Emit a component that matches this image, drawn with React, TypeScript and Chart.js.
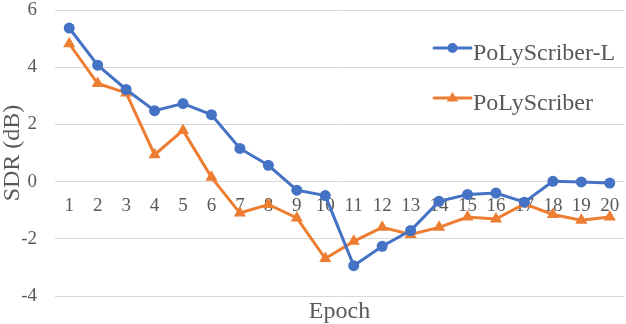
import { useEffect, useRef } from 'react';
import { Chart, registerables } from 'chart.js';

Chart.register(...registerables);

const epochs = ['1', '2', '3', '4', '5', '6', '7', '8', '9', '10', '11', '12', '13', '14', '15', '16', '17', '18', '19', '20'];
const polyScriberL = [5.37, 4.07, 3.22, 2.48, 2.73, 2.34, 1.16, 0.57, -0.3, -0.49, -2.94, -2.26, -1.71, -0.69, -0.45, -0.4, -0.72, 0.01, -0.01, -0.05];
const polyScriber = [4.82, 3.43, 3.1, 0.94, 1.79, 0.15, -1.1, -0.8, -1.27, -2.69, -2.09, -1.6, -1.85, -1.6, -1.24, -1.31, -0.78, -1.15, -1.35, -1.24];
const seriesNames = ['PoLyScriber-L', 'PoLyScriber'];
const xTitle = 'Epoch';
const yTitle = 'SDR (dB)';
const yMin = -4;
const yMax = 6;
const yStep = 2;

const BLUE = '#4472C4';
const ORANGE = '#ED7D31';
const TEXT = '#595959';
const FONT = "'Liberation Serif', 'Times New Roman', serif";

const legendPlugin = {
  id: 'insideLegend',
  afterDatasetsDraw(chart: any) {
    const ctx = chart.ctx;
    const { left, right, top, bottom } = chart.chartArea;
    chart.data.datasets.forEach((ds: any, i: number) => {
      const y = top + 38 + i * 50;
      const x0 = right - 190;
      const x1 = x0 + 37;
      const mx = (x0 + x1) / 2;
      ctx.save();
      ctx.strokeStyle = ds.borderColor;
      ctx.fillStyle = ds.backgroundColor;
      ctx.lineWidth = 3;
      ctx.lineCap = 'round';
      ctx.beginPath();
      ctx.moveTo(x0, y);
      ctx.lineTo(x1, y);
      ctx.stroke();
      ctx.beginPath();
      if (ds.pointStyle === 'triangle') {
        const r = 6;
        ctx.moveTo(mx, y - r);
        ctx.lineTo(mx + r * 0.95, y + r * 0.6);
        ctx.lineTo(mx - r * 0.95, y + r * 0.6);
        ctx.closePath();
      } else {
        ctx.arc(mx, y, 5, 0, Math.PI * 2);
      }
      ctx.fill();
      ctx.fillStyle = TEXT;
      ctx.font = `24px ${FONT}`;
      ctx.textBaseline = 'alphabetic';
      ctx.textAlign = 'left';
      ctx.fillText(ds.label, x1 + 2, y + 12);
      ctx.restore();
    });
    // x-axis title centred under the plot area
    ctx.save();
    ctx.fillStyle = TEXT;
    ctx.font = `24px ${FONT}`;
    ctx.textAlign = 'center';
    ctx.textBaseline = 'alphabetic';
    ctx.fillText(xTitle, (left + right) / 2, bottom + 22);
    ctx.restore();
  },
};

export default function App() {
  const ref = useRef<HTMLCanvasElement | null>(null);

  useEffect(() => {
    const canvas = ref.current;
    if (!canvas) return;
    const chart = new Chart(canvas, {
      type: 'line',
      data: {
        labels: epochs,
        datasets: [
          {
            label: seriesNames[0],
            data: polyScriberL,
            borderColor: BLUE,
            backgroundColor: BLUE,
            borderWidth: 3,
            pointStyle: 'circle',
            pointRadius: 5.5,
            pointBorderWidth: 0,
            tension: 0,
          },
          {
            label: seriesNames[1],
            data: polyScriber,
            borderColor: ORANGE,
            backgroundColor: ORANGE,
            borderWidth: 3,
            pointStyle: 'triangle',
            pointRadius: 7,
            pointBorderWidth: 0,
            tension: 0,
          },
        ],
      },
      options: {
        animation: false,
        responsive: false,
        maintainAspectRatio: false,
        layout: { autoPadding: false, padding: { top: 10, right: 2, left: 0, bottom: 28 } },
        plugins: {
          legend: { display: false },
          tooltip: { enabled: false },
          title: { display: false },
        },
        scales: {
          x: {
            type: 'category',
            offset: true,
            position: { y: 0 } as any,
            grid: { display: false, drawTicks: false, offset: true },
            border: { display: false },
            afterFit(scale: any) {
              scale.paddingLeft = 0;
              scale.paddingRight = 0;
            },
            ticks: {
              color: TEXT,
              font: { family: FONT, size: 19 },
              padding: 13,
              autoSkip: false,
              maxRotation: 0,
              minRotation: 0,
            },
          },
          y: {
            min: yMin,
            max: yMax,
            grid: { color: '#D9D9D9', lineWidth: 1, drawTicks: false },
            border: { display: false },
            afterFit(scale: any) {
              scale.width = 55;
              scale.paddingTop = 0;
              scale.paddingBottom = 0;
            },
            ticks: {
              stepSize: yStep,
              color: TEXT,
              font: { family: FONT, size: 19 },
              padding: 18,
            },
            title: {
              display: true,
              text: yTitle,
              color: TEXT,
              font: { family: FONT, size: 24 },
              padding: { top: -2, bottom: 0 },
            },
          },
        },
      },
      plugins: [legendPlugin],
    });
    return () => chart.destroy();
  }, []);

  return (
    <div style={{ position: 'fixed', left: 0, top: 0, width: 626, height: 324, background: '#fff' }}>
      <canvas ref={ref} width={626} height={324} style={{ width: 626, height: 324, display: 'block' }} />
    </div>
  );
}
